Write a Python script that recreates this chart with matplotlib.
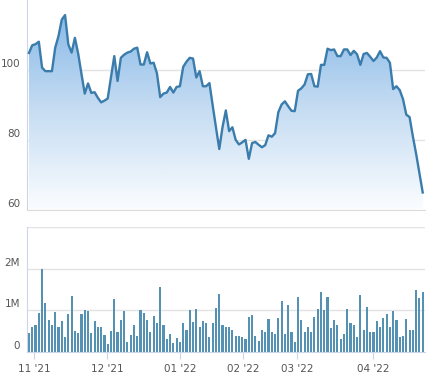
import numpy as np
import matplotlib
matplotlib.use("Agg")
import matplotlib.pyplot as plt
from matplotlib import transforms
from matplotlib.colors import LinearSegmentedColormap

# daily closing price (one value per trading day)
price = [104.8, 107.0, 107.3, 108.0, 100.6, 99.6, 99.6, 99.6, 106.3, 109.6,
         114.3, 115.6, 107.2, 104.9, 109.1, 104.6, 98.8, 93.2, 96.1, 93.4,
         93.6, 92.0, 90.7, 91.2, 91.8, 97.9, 103.9, 96.8, 103.4, 104.3,
         104.9, 105.2, 106.0, 106.3, 101.5, 101.5, 105.0, 101.8, 102.0, 99.0,
         92.2, 93.2, 93.5, 95.1, 93.5, 95.1, 95.3, 100.8, 102.3, 103.4,
         103.2, 97.8, 99.6, 95.3, 95.3, 96.2, 89.8, 83.5, 77.4, 83.7,
         88.4, 82.5, 83.6, 80.0, 78.7, 79.3, 80.0, 74.6, 79.1, 79.4,
         78.6, 77.9, 78.5, 81.3, 80.9, 81.9, 87.9, 90.1, 91.0, 89.6,
         88.3, 88.2, 94.0, 94.7, 95.8, 98.7, 98.8, 95.3, 95.2, 101.4,
         101.4, 106.0, 105.6, 105.8, 103.9, 103.9, 105.8, 105.8, 104.2, 105.4,
         104.4, 101.4, 104.5, 104.8, 103.7, 102.5, 103.5, 105.3, 103.5, 103.4,
         102.0, 94.5, 95.3, 94.2, 91.6, 87.2, 86.5, 81.0, 76.0, 70.5,
         65.0]

# daily volume in millions
volume = [0.45, 0.59, 0.64, 0.93, 2.00, 1.18, 0.76, 0.66, 0.95, 0.61,
          0.74, 0.36, 0.91, 1.34, 0.51, 0.46, 0.91, 1.01, 0.98, 0.46,
          0.74, 0.61, 0.61, 0.41, 0.19, 0.51, 1.28, 0.49, 0.76, 0.98,
          0.24, 0.41, 0.64, 0.39, 1.01, 0.93, 0.76, 0.49, 0.86, 0.69,
          1.57, 0.64, 0.32, 0.44, 0.22, 0.34, 0.25, 0.69, 0.54, 1.01,
          0.71, 1.03, 0.61, 0.74, 0.69, 0.37, 0.69, 1.06, 1.40, 0.66,
          0.61, 0.59, 0.54, 0.39, 0.39, 0.37, 0.32, 0.84, 0.89, 0.39,
          0.27, 0.54, 0.47, 0.79, 0.47, 0.44, 0.81, 1.23, 0.44, 1.13,
          0.47, 0.25, 1.33, 0.76, 0.47, 0.59, 0.47, 0.84, 1.03, 1.45,
          1.01, 1.33, 0.57, 0.76, 0.64, 0.32, 0.44, 1.03, 0.69, 0.64,
          0.37, 1.38, 0.54, 1.08, 0.47, 0.49, 0.74, 0.59, 0.81, 0.91,
          0.61, 0.98, 0.76, 0.37, 0.39, 0.79, 0.54, 0.52, 1.48, 1.30,
          1.43]

month_pos = [1.6, 23.9, 46.1, 65.3, 81.8, 105]
month_labels = ["11 '21", "12 '21", "01 '22", "02 '22", "03 '22", "04 '22"]
price_ticks = [60, 80, 100]
vol_ticks = [0, 1, 2]
vol_labels = ["0", "1M", "2M"]

line_col = "#3a7cab"
bar_col = "#5591b3"
grid_col = "#e3e3e3"
axis_col = "#ccd6eb"
text_col = "#555555"

x = np.arange(len(price))
price = np.array(price)

fig = plt.figure(figsize=(4.39, 3.75), dpi=100)
ax = fig.add_axes([27/439, 1 - 210/375, 398/439, 210/375])
axv = fig.add_axes([27/439, 23/375, 398/439, 125/375])

xlim = (-0.6, 120.7)

# price panel
ylo, yhi = 60, 119.9
for t in [80, 100]:
    ax.axhline(t, color=grid_col, lw=1, zorder=0)
poly = ax.fill_between(x, price, ylo, color="none", lw=0)
cmap = LinearSegmentedColormap.from_list("g", ["#fbfdff", "#c3dbf2", "#7fb4e6"])
grad = np.linspace(0, 1, 256).reshape(-1, 1)
img = ax.imshow(grad, cmap=cmap, aspect="auto", origin="lower",
                extent=[xlim[0], xlim[1], ylo, yhi], zorder=1)
img.set_clip_path(poly.get_paths()[0], transform=ax.transData)
ax.plot(x, price, color=line_col, lw=1.7, zorder=3, solid_joinstyle="round")
ax.set_xlim(*xlim)
ax.set_ylim(ylo, yhi)
ax.set_xticks([])
ax.set_yticks([])
for s in ["top", "right"]:
    ax.spines[s].set_visible(False)
ax.spines["left"].set_color(axis_col)
ax.spines["bottom"].set_color("#dcdcdc")

lab_tr = transforms.offset_copy(ax.get_yaxis_transform(), fig=fig, x=-7, y=6, units="dots")
for t in price_ticks:
    ax.text(0, t, str(t), transform=lab_tr, ha="right", va="center",
            fontsize=7.5, color=text_col)

# volume panel
for t in [1, 2, 3]:
    axv.axhline(t, color=grid_col, lw=1, zorder=0)
axv.bar(x, volume, width=0.65, color=bar_col, zorder=2)
axv.set_xlim(*xlim)
axv.set_ylim(0, 3)
axv.set_yticks([])
for s in ["top", "right"]:
    axv.spines[s].set_visible(False)
axv.spines["left"].set_color(axis_col)
axv.spines["bottom"].set_color(axis_col)
axv.set_xticks(month_pos)
axv.set_xticklabels(month_labels)
axv.tick_params(axis="x", length=5, color=axis_col, labelsize=7.5,
                labelcolor=text_col, pad=4)

vlab_tr = transforms.offset_copy(axv.get_yaxis_transform(), fig=fig, x=-7, y=6, units="dots")
for t, lab in zip(vol_ticks, vol_labels):
    axv.text(0, t, lab, transform=vlab_tr, ha="right", va="center",
             fontsize=7.5, color=text_col)

fig.savefig("out.png", dpi=100)
